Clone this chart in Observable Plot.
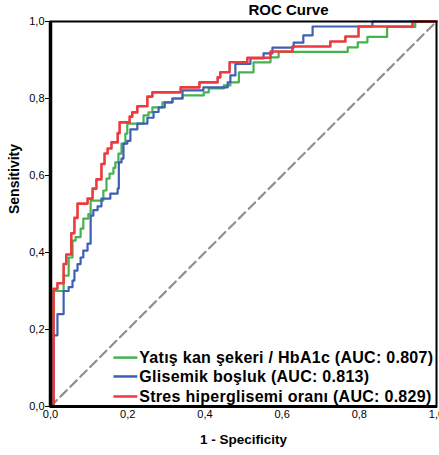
<!DOCTYPE html>
<html>
<head>
<meta charset="utf-8">
<script src="https://cdn.jsdelivr.net/npm/d3@7"></script>
<script src="https://cdn.jsdelivr.net/npm/@observablehq/plot@0.6"></script>
<style>
  html, body { margin: 0; padding: 0; background: #fff; }
  #chart svg { display: block; }
  #chart svg g[font-size="16"] { letter-spacing: 0.28px; }
</style>
</head>
<body>
<div id="chart"></div>
<script>
const xTicks = [0, 0.2, 0.4, 0.6, 0.8, 1];
const yTicks = [0, 0.2, 0.4, 0.6, 0.8, 1];
const titleText = "ROC Curve";
const xLabel = "1 - Specificity";
const yLabel = "Sensitivity";

const seriesNames = [
  "Yatış kan şekeri / HbA1c (AUC: 0.807)",
  "Glisemik boşluk (AUC: 0.813)",
  "Stres hiperglisemi oranı (AUC: 0.829)"
];
const seriesColors = ["#45b24f", "#3d5fb4", "#ec3a3e"];

// Yatış kan şekeri / HbA1c
const greenFpr = [0, 0.008, 0.034, 0.047, 0.057, 0.065, 0.078, 0.085, 0.098, 0.104, 0.137, 0.145, 0.153, 0.163, 0.168, 0.176, 0.184, 0.194, 0.199, 0.241, 0.254, 0.264, 0.290, 0.316, 0.342, 0.397, 0.410, 0.449, 0.466, 0.488, 0.526, 0.570, 0.591, 0.770, 0.796, 0.821, 0.872, 0.945, 1];
const greenTpr = [0, 0.300, 0.340, 0.387, 0.431, 0.440, 0.462, 0.488, 0.500, 0.535, 0.561, 0.592, 0.605, 0.620, 0.634, 0.657, 0.683, 0.709, 0.735, 0.756, 0.764, 0.777, 0.790, 0.800, 0.808, 0.816, 0.826, 0.834, 0.842, 0.868, 0.894, 0.907, 0.921, 0.933, 0.946, 0.960, 0.986, 1.0, 1];

// Glisemik boşluk
const blueFpr = [0, 0.008, 0.018, 0.034, 0.047, 0.057, 0.062, 0.070, 0.078, 0.085, 0.096, 0.104, 0.111, 0.122, 0.132, 0.155, 0.174, 0.177, 0.184, 0.189, 0.199, 0.207, 0.225, 0.251, 0.267, 0.280, 0.296, 0.316, 0.342, 0.396, 0.459, 0.466, 0.479, 0.518, 0.552, 0.575, 0.630, 0.655, 0.679, 0.834, 1];
const blueTpr = [0, 0.185, 0.240, 0.300, 0.310, 0.327, 0.353, 0.370, 0.387, 0.405, 0.423, 0.496, 0.510, 0.520, 0.540, 0.553, 0.566, 0.634, 0.644, 0.683, 0.690, 0.720, 0.735, 0.750, 0.765, 0.777, 0.790, 0.800, 0.821, 0.829, 0.842, 0.860, 0.890, 0.904, 0.917, 0.932, 0.945, 0.964, 0.987, 1.0, 1];

// Stres hiperglisemi oranı
const redFpr = [0, 0.008, 0.018, 0.034, 0.041, 0.054, 0.062, 0.070, 0.096, 0.109, 0.119, 0.132, 0.140, 0.148, 0.158, 0.174, 0.179, 0.205, 0.212, 0.225, 0.251, 0.264, 0.337, 0.386, 0.433, 0.440, 0.464, 0.510, 0.570, 0.627, 0.725, 0.764, 0.798, 0.938, 1];
const redTpr = [0, 0.306, 0.320, 0.370, 0.395, 0.450, 0.490, 0.527, 0.540, 0.566, 0.590, 0.630, 0.657, 0.670, 0.686, 0.710, 0.738, 0.753, 0.764, 0.780, 0.805, 0.816, 0.829, 0.842, 0.855, 0.868, 0.894, 0.906, 0.922, 0.935, 0.948, 0.961, 0.987, 1.0, 1];

const diagX = [0, 1];
const diagY = [0, 1];

// legend layout (data space, inside plot bottom-right)
const legendY = [0.127, 0.078, 0.026];
const legendLineX = [0.163, 0.225];
const legendTextX = 0.230;

const fmt = d => d.toFixed(1).replace(".", ",");
const toRows = (xs, ys) => xs.map((x, i) => ({fpr: x, tpr: ys[i]}));
const seriesRows = [toRows(greenFpr, greenTpr), toRows(blueFpr, blueTpr), toRows(redFpr, redTpr)];
const seriesWidths = [2.2, 2.2, 2.6];

const font = "'Liberation Sans', Arial, sans-serif";

const marks = [
  Plot.line(toRows(diagX, diagY), {x: "fpr", y: "tpr", stroke: "#8f8f8f", strokeWidth: 2.2, strokeDasharray: "9,5"}),
  ...seriesRows.map((rows, i) => Plot.line(rows, {x: "fpr", y: "tpr", curve: "step-after", stroke: seriesColors[i], strokeWidth: seriesWidths[i]})),
  Plot.frame({stroke: "black", strokeWidth: 2}),
  Plot.ruleX([0], {stroke: "black", strokeWidth: 3.5}),
  Plot.ruleY([0], {stroke: "black", strokeWidth: 3}),
  Plot.axisY({ticks: yTicks, tickFormat: fmt, tickSize: 5, tickPadding: 1, label: null, fontSize: 11}),
  Plot.axisX({ticks: xTicks, tickFormat: fmt, tickSize: 2, tickPadding: 2, label: null, fontSize: 11}),
  ...seriesNames.map((name, i) => Plot.link([legendY[i]], {x1: legendLineX[0], x2: legendLineX[1], y1: d => d, y2: d => d, stroke: seriesColors[i], strokeWidth: 2.5})),
  ...seriesNames.map((name, i) => Plot.text([name], {x: legendTextX, y: legendY[i], text: d => d, textAnchor: "start", lineAnchor: "middle", fontSize: 16, fontWeight: "bold", fill: "black"})),
  Plot.text([titleText], {frameAnchor: "top", text: d => d, dx: 45, dy: -11, lineAnchor: "middle", fontSize: 15, fontWeight: "bold", fill: "black"}),
  Plot.text([xLabel], {frameAnchor: "bottom", text: d => d, dy: 33, lineAnchor: "middle", fontSize: 13.5, fontWeight: "bold", fill: "black"}),
  Plot.text([yLabel], {frameAnchor: "left", text: d => d, dx: -36, rotate: -90, lineAnchor: "middle", fontSize: 14, fontWeight: "bold", fill: "black"})
];

const chart = Plot.plot({
  width: 439,
  height: 455,
  marginLeft: 50,
  marginRight: 3,
  marginTop: 21,
  marginBottom: 49,
  x: {domain: [0, 1]},
  y: {domain: [0, 1]},
  style: {fontFamily: font, fontSize: "11px", background: "white", color: "black"},
  marks
});
document.getElementById("chart").appendChild(chart);
</script>
</body>
</html>
